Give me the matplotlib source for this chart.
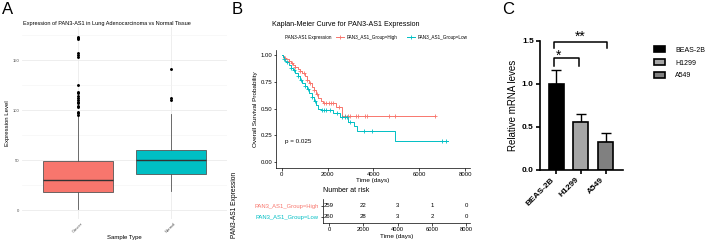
import matplotlib
matplotlib.use("Agg")
import matplotlib.pyplot as plt
import numpy as np
from matplotlib.lines import Line2D

plt.rcParams["font.family"] = ["Liberation Sans", "DejaVu Sans"]

# ---- panel A: boxplot stats ----
sample_types = ["Cancer", "Normal"]
box_q1 = [18, 36.5]
box_med = [30, 50]
box_q3 = [49, 60]
whisk_lo = [1, 19]
whisk_hi = [94, 96]
fliers_cancer = [95, 97, 98, 103, 104, 107, 108, 110, 112, 114, 117, 118,
                 125, 153, 155, 157, 171, 172, 173]
fliers_normal = [110, 112, 141]

# ---- panel B: Kaplan-Meier ----
group_labels = ["PAN3_AS1_Group=High", "PAN3_AS1_Group=Low"]
high_t = [0, 50, 100, 200, 300, 400, 500, 600, 700, 800, 900, 1000, 1100, 1200,
          1300, 1400, 1500, 1600, 1700, 1800, 2350, 2630, 6700]
high_s = [1.0, 0.99, 0.975, 0.96, 0.945, 0.925, 0.905, 0.885, 0.87, 0.85, 0.83,
          0.80, 0.77, 0.735, 0.70, 0.67, 0.635, 0.60, 0.57, 0.55, 0.52, 0.434, 0.434]
high_cens = [150, 300, 450, 600, 800, 950, 1100, 1250, 1400, 1550, 1850, 1950,
             2050, 2150, 2250, 2500, 2750, 2900, 3000, 3250, 3330, 3630, 3720,
             4700, 4930, 6680]
low_t = [0, 50, 100, 150, 200, 300, 400, 500, 600, 700, 800, 900, 1000, 1100,
         1200, 1300, 1400, 1500, 1600, 1700, 2250, 2550, 2900, 3150, 3300, 4950, 7250]
low_s = [1.0, 0.98, 0.96, 0.945, 0.93, 0.905, 0.88, 0.86, 0.83, 0.80, 0.77, 0.74,
         0.71, 0.68, 0.645, 0.61, 0.575, 0.535, 0.50, 0.487, 0.46, 0.42, 0.375,
         0.34, 0.29, 0.20, 0.20]
low_cens = [100, 250, 400, 550, 700, 850, 1000, 1150, 1300, 1450, 1750, 1850,
            1950, 2100, 2400, 2650, 2750, 2850, 3000, 3600, 3920, 6980, 7170]
risk_times = [0, 2000, 4000, 6000, 8000]
risk_high = [259, 22, 3, 1, 0]
risk_low = [260, 28, 3, 2, 0]
p_text = "p = 0.025"

# ---- panel C: qPCR bars ----
cell_lines = ["BEAS-2B", "H1299", "A549"]
mrna = [1.0, 0.555, 0.325]
mrna_err = [0.16, 0.095, 0.105]
bar_colors = ["#000000", "#a6a6a6", "#808080"]

RED, TEAL = "#F8766D", "#00BFC4"
W, H = 709, 242


def rect(x0, y0, x1, y1):
    return [x0 / W, 1 - y1 / H, (x1 - x0) / W, (y1 - y0) / H]


def fx(x):
    return x / W


def fy(y):
    return 1 - y / H


fig = plt.figure(figsize=(7.09, 2.42), dpi=100)

# ================= A =================
axa = fig.add_axes(rect(22, 27, 227, 219))
stats = []
for i, name in enumerate(sample_types):
    stats.append(dict(label=name, q1=box_q1[i], med=box_med[i], q3=box_q3[i],
                      whislo=whisk_lo[i], whishi=whisk_hi[i],
                      fliers=[fliers_cancer, fliers_normal][i]))
bp = axa.bxp(stats, positions=[1, 2], widths=0.75, patch_artist=True,
             showcaps=False,
             boxprops=dict(edgecolor="#555555", linewidth=0.6),
             medianprops=dict(color="#333333", linewidth=1.0),
             whiskerprops=dict(color="#555555", linewidth=0.6),
             flierprops=dict(marker="o", markersize=1.1, markerfacecolor="black",
                             markeredgecolor="black"))
for patch, c in zip(bp["boxes"], [RED, TEAL]):
    patch.set_facecolor(c)
axa.set_xlim(0.4, 2.6)
axa.set_ylim(-9, 183)
axa.set_yticks([0, 50, 100, 150])
axa.set_yticks([25, 75, 125, 175], minor=True)
axa.grid(True, which="major", color="#ebebeb", linewidth=0.6)
axa.grid(True, which="minor", axis="y", color="#f3f3f3", linewidth=0.4)
axa.set_axisbelow(True)
for s in axa.spines.values():
    s.set_visible(False)
axa.tick_params(length=0, labelsize=3, labelcolor="#4d4d4d", pad=2)
axa.tick_params(which="minor", length=0)
axa.set_xticks([1, 2])
axa.set_xticklabels(sample_types, rotation=45, ha="center", va="top")
axa.set_xlabel("Sample Type", fontsize=4.3, labelpad=1)
axa.set_ylabel("Expression Level", fontsize=4.3, labelpad=2)
fig.text(fx(23), fy(23), "Expression of PAN3-AS1 in Lung Adenocarcinoma vs Normal Tissue",
         fontsize=4, va="center", ha="left")
fig.text(fx(2), fy(2), "A", fontsize=12, va="top", ha="left")

# ================= B =================
axb = fig.add_axes(rect(276, 49.6, 470, 167.7))


def surv_at(t, s, ct):
    idx = np.searchsorted(t, ct, side="right") - 1
    return np.asarray(s)[idx]


axb.step(high_t, high_s, where="post", color=RED, lw=0.7)
axb.step(low_t, low_s, where="post", color=TEAL, lw=0.7)
axb.plot(high_cens, surv_at(high_t, high_s, high_cens), "+", color=RED, ms=3, mew=0.6)
axb.plot(low_cens, surv_at(low_t, low_s, low_cens), "+", color=TEAL, ms=3, mew=0.6)
axb.set_xlim(-251, 8217)
axb.set_ylim(-0.05, 1.05)
axb.set_xticks(risk_times)
axb.set_yticks([0, 0.25, 0.5, 0.75, 1.0])
axb.set_yticklabels(["0.00", "0.25", "0.50", "0.75", "1.00"])
axb.spines["top"].set_visible(False)
axb.spines["right"].set_visible(False)
for s in ["left", "bottom"]:
    axb.spines[s].set_linewidth(0.5)
axb.tick_params(length=1.8, width=0.5, labelsize=4.3, pad=1)
axb.set_xlabel("Time (days)", fontsize=4.6, labelpad=1)
axb.set_ylabel("Overall Survival Probability", fontsize=4.6, labelpad=2)
axb.text(150, 0.19, p_text, fontsize=4.5, ha="left", va="center")
fig.text(fx(272), fy(24), "Kaplan-Meier Curve for PAN3-AS1 Expression",
         fontsize=5.1, va="center", ha="left")
fig.text(fx(232), fy(2), "B", fontsize=12, va="top", ha="left")

fig.text(fx(285), fy(37), "PAN3-AS1 Expression", fontsize=3.3, va="center", ha="left")
handles = [Line2D([], [], color=RED, marker="+", lw=0.7, ms=3, mew=0.6),
           Line2D([], [], color=TEAL, marker="+", lw=0.7, ms=3, mew=0.6)]
fig.legend(handles, group_labels, loc="center left",
           bbox_to_anchor=(fx(334), fy(37)), ncol=2, fontsize=3.3, frameon=False,
           borderpad=0, handlelength=1.7, handletextpad=0.5, columnspacing=2.2)

# risk table
axt = fig.add_axes(rect(322.7, 199, 470, 223.3))
for t, n in zip(risk_times, risk_high):
    axt.text(t, 2, str(n), ha="center", va="center", fontsize=4.3)
for t, n in zip(risk_times, risk_low):
    axt.text(t, 1, str(n), ha="center", va="center", fontsize=4.3)
axt.set_xlim(-370, 8210)
axt.set_ylim(0.4, 2.6)
axt.set_xticks(risk_times)
axt.set_yticks([2, 1])
axt.set_yticklabels(group_labels)
for lbl, c in zip(axt.get_yticklabels(), [RED, TEAL]):
    lbl.set_color(c)
axt.spines["top"].set_visible(False)
axt.spines["right"].set_visible(False)
for s in ["left", "bottom"]:
    axt.spines[s].set_linewidth(0.5)
axt.tick_params(length=1.8, width=0.5, labelsize=4.2, pad=1)
axt.set_xlabel("Time (days)", fontsize=4.6, labelpad=1)
fig.text(fx(323), fy(191), "Number at risk", fontsize=5, va="center", ha="left")
fig.text(fx(234), fy(205), "PAN3-AS1 Expression", fontsize=4.8, rotation=90,
         va="center", ha="center")

# ================= C =================
axc = fig.add_axes(rect(540, 40.7, 623, 170))
xc = np.arange(len(cell_lines))
bars = axc.bar(xc, mrna, width=0.6, color=bar_colors, edgecolor="black",
               linewidth=1.2, label=cell_lines, zorder=2)
axc.errorbar(xc, mrna, yerr=[np.zeros(3), mrna_err], fmt="none", ecolor="black",
             elinewidth=1.0, capsize=3.5, capthick=1.0, zorder=1)
axc.set_xlim(-0.65, 2.7)
axc.set_ylim(0, 1.5)
axc.set_yticks([0, 0.5, 1.0, 1.5])
axc.set_yticklabels(["0.0", "0.5", "1.0", "1.5"], fontweight="bold")
axc.set_xticks(xc)
axc.set_xticklabels(cell_lines, rotation=45, ha="right", fontweight="bold")
axc.spines["top"].set_visible(False)
axc.spines["right"].set_visible(False)
for s in ["left", "bottom"]:
    axc.spines[s].set_linewidth(1.2)
axc.tick_params(length=3, width=1.2, labelsize=6, pad=1.5)
axc.set_ylabel("Relative mRNA leves", fontsize=7, labelpad=3)

# significance brackets
axc.plot([-0.07, -0.07, 0.93, 0.93], [1.21, 1.305, 1.305, 1.21], color="black",
         lw=1.1, clip_on=False)
axc.text(0.1, 1.33, "*", fontsize=10, ha="center", va="center")
axc.plot([-0.07, -0.07, 2.05, 2.05], [1.42, 1.49, 1.49, 1.42], color="black",
         lw=1.1, clip_on=False)
axc.text(0.98, 1.55, "**", fontsize=10, ha="center", va="center", clip_on=False)

axc.legend(handles=list(bars), labels=cell_lines, loc="upper left",
           bbox_to_anchor=(fx(651), fy(43)), bbox_transform=fig.transFigure,
           frameon=False, fontsize=5, handlelength=1.5, handleheight=0.8,
           labelspacing=0.85, handletextpad=1.5, borderpad=0)
fig.text(fx(502), fy(2), "C", fontsize=12, va="top", ha="left")

fig.savefig("out.png", dpi=100)
